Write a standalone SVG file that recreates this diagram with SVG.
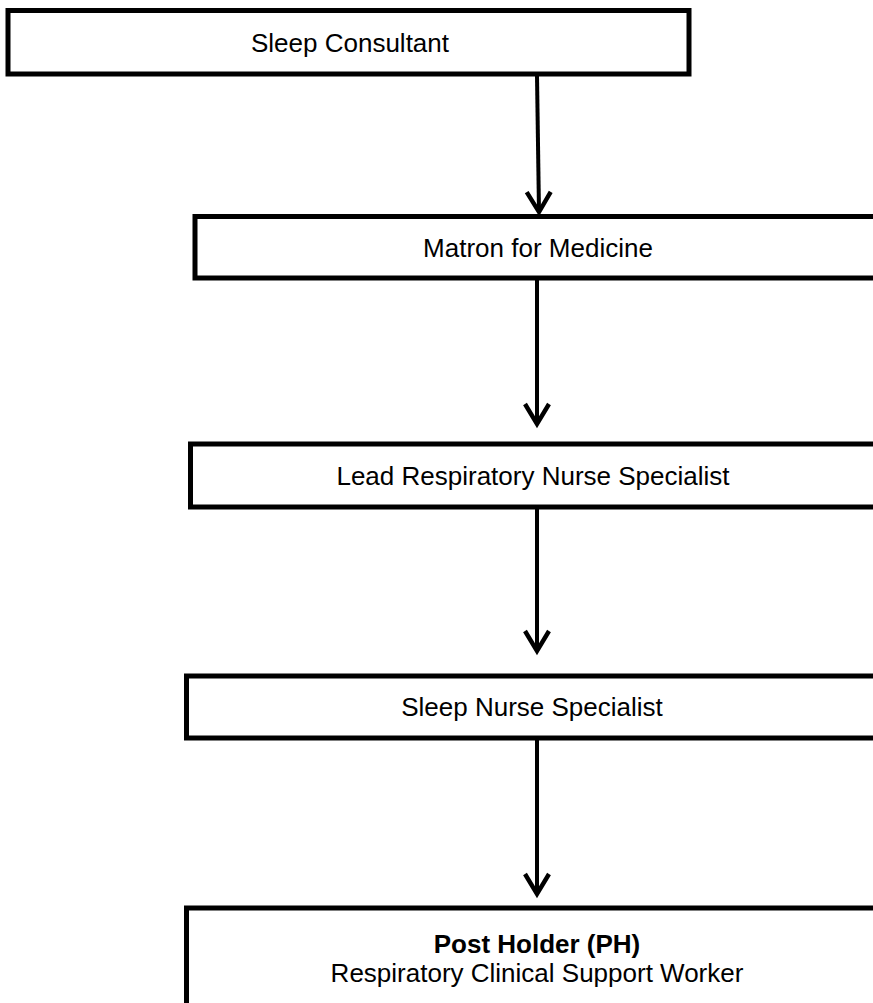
<svg xmlns="http://www.w3.org/2000/svg" width="873" height="1003" viewBox="0 0 873 1003">
<style>
.box{fill:#fff;stroke:#000;stroke-width:5}
.t{font-family:"Liberation Sans",Arial,sans-serif;font-size:26px;fill:#000;text-anchor:middle}
.b{font-weight:bold}
.c{stroke:#000;stroke-width:4;fill:none}
</style>
<defs>
<marker id="ah" markerWidth="8" markerHeight="8" refX="6" refY="4" orient="auto" markerUnits="strokeWidth" viewBox="0 0 8 8">
<path d="M1,1 L6,4 L1,7" fill="none" stroke="#000" stroke-width="1.1" stroke-linejoin="miter"/>
</marker>
</defs>
<g id="n1"><rect class="box" x="8" y="10.5" width="681" height="63.5"/><text class="t" x="350" y="52">Sleep Consultant</text></g>
<g id="n2"><rect class="box" x="195" y="216.5" width="690" height="61.5"/><text class="t" x="538" y="256.5">Matron for Medicine</text></g>
<g id="n3"><rect class="box" x="190.5" y="444" width="690" height="63"/><text class="t" x="533" y="484.5">Lead Respiratory Nurse Specialist</text></g>
<g id="n4"><rect class="box" x="186.5" y="676" width="695" height="62"/><text class="t" x="532" y="716">Sleep Nurse Specialist</text></g>
<g id="n5"><rect class="box" x="186.5" y="908" width="695" height="110"/><text class="t b" x="537" y="953">Post Holder (PH)</text><text class="t" x="537" y="982">Respiratory Clinical Support Worker</text></g>
<g id="connectors">
<line class="c" x1="537" y1="76" x2="539" y2="212" marker-end="url(#ah)"/>
<line class="c" x1="537" y1="280" x2="537" y2="424" marker-end="url(#ah)"/>
<line class="c" x1="537" y1="509" x2="537" y2="651" marker-end="url(#ah)"/>
<line class="c" x1="537" y1="740" x2="537" y2="894" marker-end="url(#ah)"/>
</g>
</svg>
